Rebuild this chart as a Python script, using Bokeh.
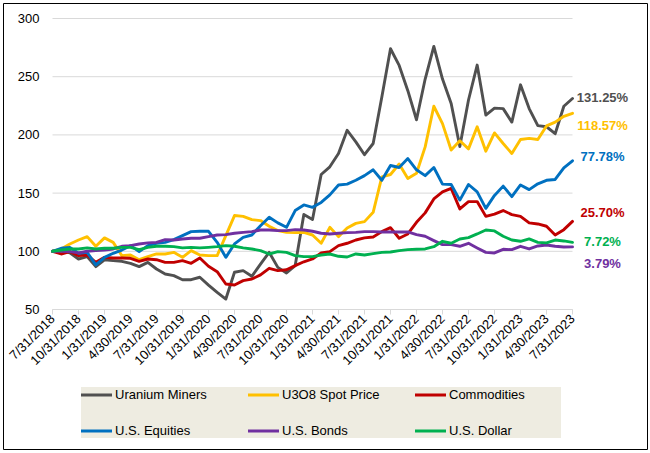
from math import pi
import pandas as pd
from bokeh.plotting import figure
from bokeh.core.properties import value
from bokeh.models import (ColumnDataSource, Range1d, FixedTicker, Legend, LegendItem, LabelSet)
from bokeh.embed import file_html
from bokeh.resources import INLINE

# ---- data -------------------------------------------------------------
dates = pd.date_range("2018-07-31", periods=61, freq=pd.offsets.MonthEnd())
months = [f"{d.month}/{d.day}/{d.year}" for d in dates]

series_names = ["Uranium Miners", "U3O8 Spot Price", "Commodities",
                "U.S. Equities", "U.S. Bonds", "U.S. Dollar"]

uranium_miners = [100, 100.6, 98.6, 93.4, 95.4, 86.8, 92.6, 92, 91.4, 89.7,
                  86.8, 90.5, 84.8, 80.5, 79.1, 75.6, 75.6, 77.7, 71, 64.8,
                  59, 82, 83.4, 78.5, 89, 99.1, 86.2, 81.4, 87.7, 131.7,
                  127.4, 166, 172.6, 184, 204, 194, 183, 192.6, 232.6, 274,
                  259.7, 238, 213, 248, 276, 248, 227, 190, 230, 260,
                  217, 223, 222.6, 211, 243, 222.6, 208, 207, 201, 224.6,
                  231.25]
u3o8_spot = [100, 102, 106.3, 109.7, 112.6, 104.3, 111.5, 107.7, 96.3, 96.8,
             92.8, 95.4, 97.7, 97.7, 99.1, 94.8, 100.6, 96.8, 96.3, 96.3,
             113.5, 130.7, 130, 127.2, 126.4, 121.5, 117.8, 116.3, 116, 116.3,
             114, 106.9, 120.6, 112.6, 120, 124, 125.5, 133.5, 164, 166,
             175, 162.6, 167, 189.7, 224.6, 209.7, 187, 195, 188, 207,
             186, 201.7, 192.6, 184, 196, 197, 196, 207.7, 211, 216,
             218.57]
commodities = [100, 97.7, 99.7, 96.3, 96.8, 90.5, 94.8, 94.3, 94.3, 94,
               91.4, 93.4, 92.8, 90.5, 90.5, 92, 89.7, 94.3, 87.1, 82.5,
               71.9, 71, 74.8, 76.2, 79.7, 85.4, 83.4, 84.2, 87.7, 91,
               93.4, 98.6, 99.7, 104.9, 106.9, 109.7, 111.5, 112.3, 116.9, 120.3,
               111.2, 114.9, 124.9, 133, 145, 151, 154, 136.4, 142.7, 142.7,
               130, 132, 135, 131.5, 130, 124.4, 123.5, 121.5, 114, 118.6,
               125.70]
us_equities = [100, 102.6, 103.4, 98.3, 99.1, 88.3, 94.8, 98.3, 101.1, 104.9,
               99.7, 104.9, 106.9, 107.7, 110, 113.5, 116.9, 117.2, 117.2, 107.7,
               94.8, 106.3, 112, 114, 122, 129.2, 124.4, 120.6, 135, 139.8,
               137.8, 142, 148.5, 157, 157.7, 161, 165, 170, 161, 173.7,
               172, 179.7, 170, 165, 172, 157.7, 157.4, 144, 157.4, 151,
               136.9, 148, 156, 147, 157, 153, 158, 161, 161.7, 171.7,
               177.78]
us_bonds = [100, 100, 99.7, 98.6, 100, 100.6, 101.1, 102, 104.3, 104.9,
            106.3, 107.2, 107.7, 110, 109.7, 110.6, 111.2, 111.2, 112.6, 114,
            114.3, 115.5, 116.3, 116.9, 118.3, 118.3, 117.8, 117.8, 118.6, 118.3,
            117.2, 115.5, 114.9, 115.5, 116, 116.3, 116.9, 116.9, 116.6, 116.6,
            116.6, 116.6, 114.3, 112.9, 109.2, 105.7, 105.7, 104.3, 106.9, 102.9,
            99.1, 98.6, 101.7, 101.4, 104.3, 102, 104.6, 105.4, 104.3, 103.7,
            103.79]
us_dollar = [100, 101.1, 102, 102, 102.9, 102, 102.6, 102.6, 103.4, 103.4,
             101.4, 103.4, 104.3, 104.3, 104, 102.9, 103.4, 102.9, 103.4, 104,
             104.9, 104.3, 102.9, 102, 100.6, 97.7, 99.7, 99.1, 96.3, 95.4,
             95.4, 96.8, 97.7, 95.7, 95.1, 97.7, 96.8, 98, 99.1, 99.4,
             100.6, 101.4, 101.7, 102, 104, 108.6, 106.9, 110.6, 111.7, 114.9,
             118.3, 117.5, 112.9, 109.7, 108.6, 110.6, 107.7, 107.2, 109.7, 108.9,
             107.72]

y_ticks = [50, 100, 150, 200, 250, 300]

# ---- styles / layout --------------------------------------------------
colors = ["#505050", "#FFC000", "#C00000", "#0070C0", "#7030A0", "#00B050"]
label_y_offsets = [1, -12, 9, 4, -17, 1]   # pixels, to separate end labels
FONT = "Liberation Sans"
W, H = 650, 453
INSET = dict(left=3, right=3, top=3, bottom=4)      # chart border inset
PX_X0, PX_X1 = 52, 572      # pixel columns of first / last month
PX_Y1, PX_Y0 = 18, 309      # pixel rows of top / bottom y tick

all_series = [uranium_miners, u3o8_spot, commodities, us_equities, us_bonds, us_dollar]
x_idx = list(range(len(months)))
x_first, x_last = x_idx[0], x_idx[-1]
y_lo, y_hi = y_ticks[0], y_ticks[-1]

# ranges chosen so the frame covers the whole bordered chart area
fx0, fx1 = INSET["left"], W - INSET["right"]
fy0, fy1 = INSET["top"], H - INSET["bottom"]
kx = (PX_X1 - PX_X0) / (x_last - x_first)
ky = (PX_Y0 - PX_Y1) / (y_hi - y_lo)
x_start = x_first - (PX_X0 - fx0) / kx
x_end = x_last + (fx1 - PX_X1) / kx
y_end = y_hi + (PX_Y1 - fy0) / ky
y_start = y_lo - (fy1 - PX_Y0) / ky

p = figure(width=W, height=H,
           x_range=Range1d(x_start, x_end), y_range=Range1d(y_start, y_end),
           output_backend="svg", toolbar_location=None,
           min_border_left=INSET["left"], min_border_right=INSET["right"],
           min_border_top=INSET["top"], min_border_bottom=INSET["bottom"])
p.outline_line_color = "black"
p.outline_line_width = 1
p.background_fill_color = "white"
p.border_fill_color = "white"

# horizontal gridlines, limited to the data span
p.xgrid.visible = False
p.ygrid.visible = False
p.segment(x0=[x_first] * len(y_ticks), x1=[x_last] * len(y_ticks),
          y0=y_ticks, y1=y_ticks, line_color="#d9d9d9", line_width=1)

renderers = []
for name, vals, col in zip(series_names, all_series, colors):
    src = ColumnDataSource(dict(x=x_idx, y=vals))
    r = p.line("x", "y", source=src, line_color=col, line_width=2.9,
               line_join="round", line_cap="round")
    renderers.append(r)

# x axis (drawn inside the frame at y = lowest tick)
xa = p.xaxis[0]
xa.fixed_location = y_lo
xa.bounds = (x_first, x_last)
xa.ticker = FixedTicker(ticks=list(range(x_first, x_last + 1, 3)))
xa.major_label_overrides = {i: months[i] for i in range(x_first, x_last + 1, 3)}
xa.major_label_orientation = pi / 4
xa.axis_line_color = "#d9d9d9"
xa.major_tick_line_color = "#d9d9d9"
xa.major_tick_in = 0
xa.major_tick_out = 5
xa.minor_tick_line_color = None
xa.major_label_text_font = FONT
xa.major_label_text_font_size = "13px"
xa.major_label_text_color = "black"
xa.major_label_standoff = 2

# y axis (drawn inside the frame at x = first month)
ya = p.yaxis[0]
ya.fixed_location = x_first
ya.ticker = FixedTicker(ticks=y_ticks)
ya.axis_line_color = None
ya.major_tick_line_color = None
ya.major_tick_in = 0
ya.major_tick_out = 0
ya.minor_tick_line_color = None
ya.major_label_text_font = FONT
ya.major_label_text_font_size = "13px"
ya.major_label_text_color = "black"
ya.major_label_standoff = 13

# end labels
ends = [s[-1] for s in all_series]
lab_src = ColumnDataSource(dict(
    x=[x_last] * len(ends), y=ends,
    text=[f"{v - 100:.2f}%" for v in ends],
    color=colors, yoff=label_y_offsets))
p.add_layout(LabelSet(x="x", y="y", text="text", source=lab_src,
                      text_color="color", x_offset=30, y_offset="yoff",
                      text_align="center", text_baseline="middle",
                      text_font=value(FONT), text_font_size=value("13px"),
                      text_font_style=value("bold")))

# legend
legend = Legend(items=[LegendItem(label=n, renderers=[r]) for n, r in zip(series_names, renderers)],
                orientation="horizontal", ncols=3, location=(78, 11),
                background_fill_color="#EEECE1", background_fill_alpha=1,
                border_line_color=None, padding=10, spacing=21, margin=0,
                glyph_width=31, glyph_height=15, label_height=15, label_width=112,
                label_standoff=3, label_text_font=FONT, label_text_font_size="13px",
                label_text_color="black")
p.add_layout(legend)

open("out.html", "w").write(file_html(p, INLINE))
